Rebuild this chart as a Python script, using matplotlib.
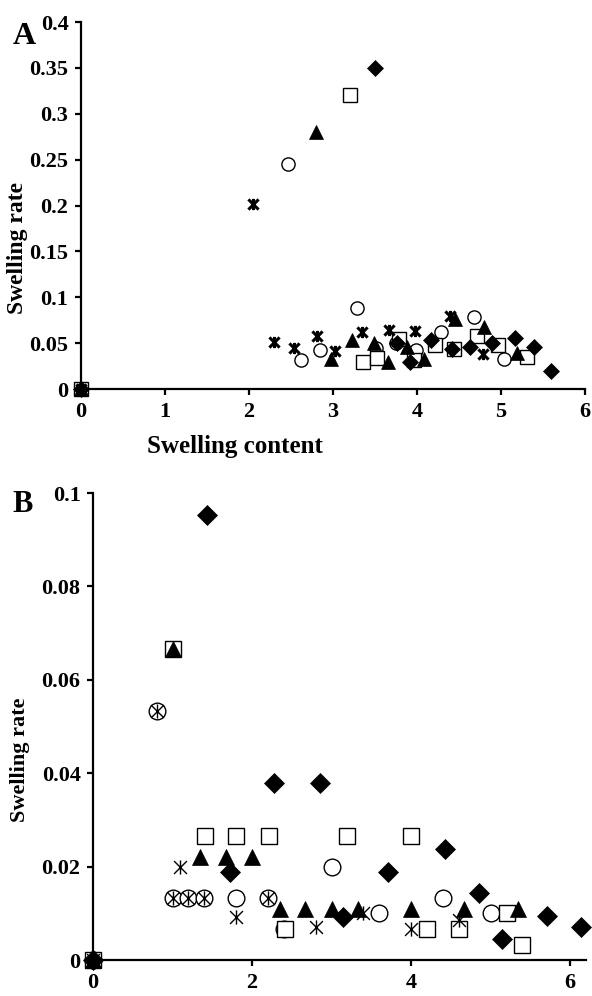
import matplotlib.pyplot as plt
from matplotlib.path import Path

plt.rcParams['font.family'] = 'Liberation Serif'
plt.rcParams['font.weight'] = 'bold'

# ---- panel A data (swelling content vs swelling rate)
a_dia_x = [0, 3.50, 3.76, 3.92, 4.17, 4.42, 4.63, 4.89, 5.17, 5.39, 5.60]
a_dia_y = [0, 0.350, 0.050, 0.030, 0.053, 0.044, 0.046, 0.050, 0.056, 0.046, 0.020]
a_sq_x = [0, 3.20, 3.36, 3.52, 3.79, 3.96, 4.21, 4.44, 4.72, 4.97, 5.31]
a_sq_y = [0, 0.320, 0.030, 0.034, 0.055, 0.032, 0.048, 0.044, 0.058, 0.048, 0.035]
a_tri_x = [0, 2.80, 2.98, 3.23, 3.49, 3.65, 3.88, 4.08, 4.45, 4.80, 5.19]
a_tri_y = [0, 0.280, 0.033, 0.053, 0.050, 0.030, 0.046, 0.033, 0.076, 0.068, 0.039]
a_cir_x = [0, 2.46, 2.62, 2.84, 3.28, 3.51, 3.75, 3.99, 4.29, 4.68, 5.03]
a_cir_y = [0, 0.245, 0.032, 0.042, 0.088, 0.045, 0.050, 0.043, 0.062, 0.079, 0.033]
a_star_x = [0, 2.05, 2.30, 2.53, 2.81, 3.02, 3.34, 3.67, 3.98, 4.39, 4.78]
a_star_y = [0, 0.202, 0.051, 0.045, 0.058, 0.041, 0.062, 0.064, 0.063, 0.080, 0.038]

# ---- panel B data
b_dia_x = [0, 1.43, 1.72, 2.28, 2.86, 3.15, 3.71, 4.43, 4.85, 5.14, 5.71, 6.14]
b_dia_y = [0, 0.0954, 0.0189, 0.038, 0.038, 0.0093, 0.0189, 0.0238, 0.0143, 0.0046, 0.0095, 0.0071]
b_sq_x = [0, 1.00, 1.41, 1.80, 2.21, 2.41, 3.20, 4.00, 4.20, 4.60, 5.20, 5.40]
b_sq_y = [0, 0.0667, 0.0266, 0.0266, 0.0266, 0.0066, 0.0266, 0.0266, 0.0066, 0.0066, 0.010, 0.0032]
b_tri_x = [0, 1.00, 1.34, 1.67, 2.00, 2.35, 2.67, 3.00, 3.33, 4.00, 4.67, 5.34]
b_tri_y = [0, 0.0667, 0.0221, 0.0221, 0.0221, 0.0109, 0.0109, 0.0109, 0.0109, 0.0109, 0.0109, 0.0109]
b_cir_x = [0, 0.80, 1.00, 1.20, 1.40, 1.80, 2.20, 2.40, 3.00, 3.60, 4.40, 5.00]
b_cir_y = [0, 0.0533, 0.0133, 0.0133, 0.0133, 0.0133, 0.0133, 0.0066, 0.020, 0.010, 0.0133, 0.010]
b_star_x = [0, 0.80, 1.00, 1.10, 1.20, 1.40, 1.80, 2.20, 2.80, 3.40, 4.00, 4.60]
b_star_y = [0, 0.0533, 0.0133, 0.020, 0.0133, 0.0133, 0.0093, 0.0133, 0.0071, 0.010, 0.0066, 0.0086]

a_yticks = [0, 0.05, 0.1, 0.15, 0.2, 0.25, 0.3, 0.35, 0.4]
a_ylabels = ['0', '0.05', '0.1', '0.15', '0.2', '0.25', '0.3', '0.35', '0.4']
b_yticks = [0, 0.02, 0.04, 0.06, 0.08, 0.1]
b_ylabels = ['0', '0.02', '0.04', '0.06', '0.08', '0.1']

# excel style "star": x with a vertical bar
star = Path([(-1, -1), (1, 1), (-1, 1), (1, -1), (0, -1.1), (0, 1.1)],
            [Path.MOVETO, Path.LINETO, Path.MOVETO, Path.LINETO, Path.MOVETO, Path.LINETO])


def draw(ax, series, ms, star_lw):
    for x, y, m in series:
        if m == 'star':
            ax.plot(x, y, ls='none', marker=star, ms=ms * 0.85, mec='black',
                    mew=star_lw, clip_on=False, zorder=3)
        elif m in ('o', 's'):
            ax.plot(x, y, ls='none', marker=m, ms=ms, mfc='white', mec='black',
                    mew=1.0, clip_on=False, zorder=3)
        elif m == 'D':
            ax.plot(x, y, ls='none', marker=m, ms=ms * 0.88, mfc='black',
                    mec='black', mew=0.5, clip_on=False, zorder=3)
        else:
            ax.plot(x, y, ls='none', marker=m, ms=ms, mfc='black', mec='black',
                    mew=0.5, clip_on=False, zorder=3)


def style(ax, fs):
    for s in ['top', 'right']:
        ax.spines[s].set_visible(False)
    for s in ['left', 'bottom']:
        ax.spines[s].set_linewidth(1.6)
    ax.tick_params(direction='out', length=4, width=1.6, labelsize=fs, pad=5)


fig = plt.figure(figsize=(5.92, 9.96), dpi=100)

axA = fig.add_axes([0.1368, 0.6094, 0.8514, 0.3685])
draw(axA, [(a_cir_x, a_cir_y, 'o'), (a_sq_x, a_sq_y, 's'),
           (a_tri_x, a_tri_y, '^'), (a_dia_x, a_dia_y, 'D'),
           (a_star_x, a_star_y, 'star')], 9.5, 2.2)
axA.set_xlim(0, 6)
axA.set_ylim(0, 0.4)
axA.set_xticks(range(7))
axA.set_yticks(a_yticks)
axA.set_yticklabels(a_ylabels)
style(axA, 16)
fig.text(235 / 592, 1 - 446 / 996, 'Swelling content', fontsize=18,
         fontweight='bold', ha='center', va='center')
fig.text(18 / 592, 1 - 248 / 996, 'Swelling rate', fontsize=17,
         fontweight='bold', ha='center', va='center', rotation=90)
fig.text(24 / 592, 1 - 37 / 996, 'A', fontsize=23, fontweight='bold',
         ha='center', va='center')

axB = fig.add_axes([0.1571, 0.0361, 0.8328, 0.4689])
draw(axB, [(b_cir_x, b_cir_y, 'o'), (b_sq_x, b_sq_y, 's'),
           (b_tri_x, b_tri_y, '^'), (b_dia_x, b_dia_y, 'D'),
           (b_star_x, b_star_y, 'star')], 12, 1.0)
axB.set_xlim(0, 6.2)
axB.set_ylim(0, 0.1)
axB.set_xticks([0, 2, 4, 6])
axB.set_yticks(b_yticks)
axB.set_yticklabels(b_ylabels)
style(axB, 16)
fig.text(20 / 592, 1 - 760 / 996, 'Swelling rate', fontsize=16,
         fontweight='bold', ha='center', va='center', rotation=90)
fig.text(23 / 592, 1 - 505 / 996, 'B', fontsize=22, fontweight='bold',
         ha='center', va='center')

fig.savefig('out.png', dpi=100)
